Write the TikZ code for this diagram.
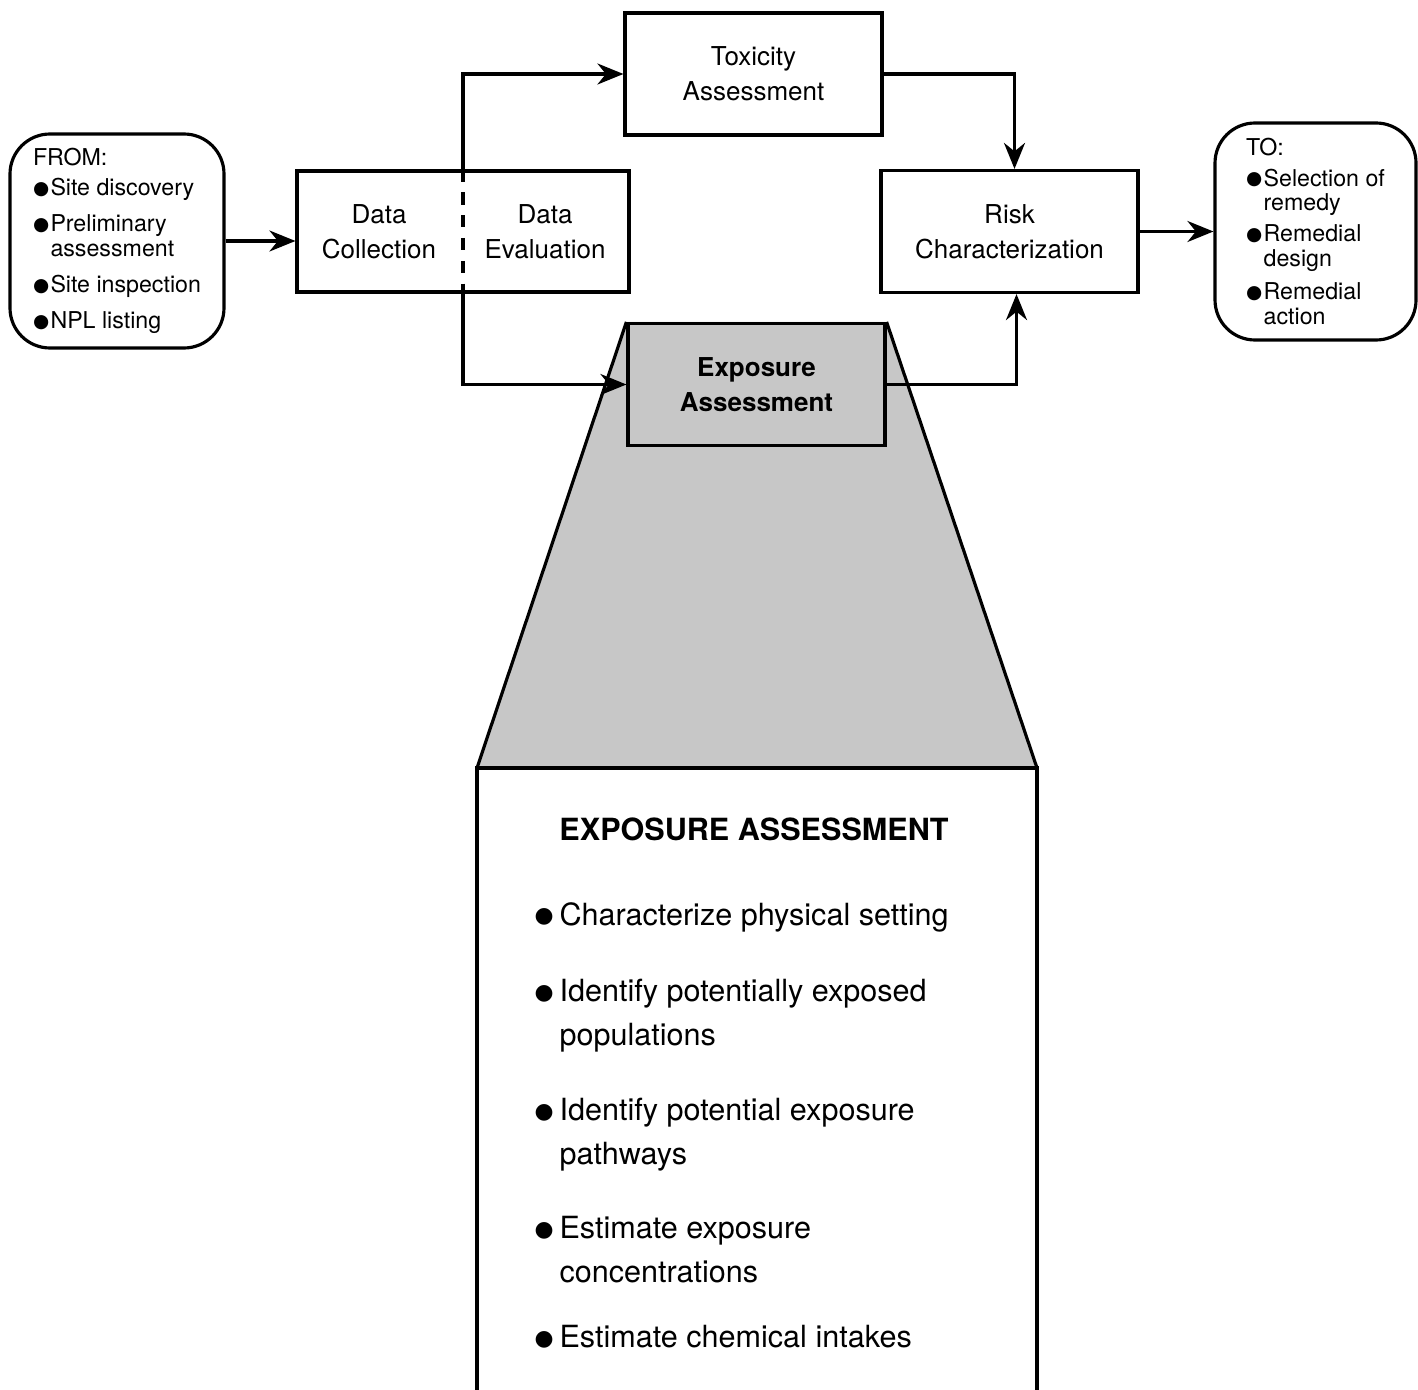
\documentclass[tikz,border=0pt]{standalone}
\usepackage{fontspec}
\setmainfont{TeX Gyre Heros}
\newfontfamily\symfont{DejaVu Sans}
\usetikzlibrary{positioning,arrows.meta,backgrounds}

\newcommand{\sbul}{\makebox[1.75mm][l]{\raisebox{0.35pt}{\symfont\fontsize{5.3}{5}\selectfont ●}}}
\newcommand{\snob}{\makebox[1.75mm]{}}
\newcommand{\bbul}{\makebox[2.5mm][l]{\raisebox{0.6pt}{\symfont\fontsize{6.2}{6}\selectfont ●}}}
\newcommand{\bnob}{\makebox[2.5mm]{}}

\begin{document}
\begin{tikzpicture}[node distance = 3cm and 3cm, on grid, line width=0.9pt,
	flow/.style={-{Stealth[length=2.6mm,width=2.1mm]}},
	stage/.style={rectangle, draw, minimum width=2.57cm, minimum height=1.22cm, align=center, font=\fontsize{7.4}{10}\selectfont},
	ends/.style={rectangle, draw, rounded corners=0.4cm, align=left, font=\fontsize{6.6}{7.1}\selectfont},
	steptext/.style={align=left, inner sep=0pt, font=\fontsize{8.7}{12.5}\selectfont}]
	\useasboundingbox (0,0) rectangle (14.18,-13.89);

	% main flow
	\node[stage, minimum width=3.32cm, minimum height=1.21cm] (data) at (4.63,-2.315) {};
	\node (collect) [left = 0.84 of data, align=center, font=\fontsize{7.4}{10}\selectfont] {Data\\Collection};
	\node (evaluate) [right = 0.82 of data, align=center, font=\fontsize{7.4}{10}\selectfont] {Data\\Evaluation};
	\node[stage] (tox) [above right = 1.575 and 2.905 of data] {Toxicity\\Assessment};
	\node[stage] (risk) [right = 5.465 of data] {Risk\\Characterization};
	\node[stage, fill=black!22, font=\fontsize{7.4}{10}\selectfont\bfseries] (expo) [below right = 1.53 and 2.935 of data] {Exposure\\Assessment};
	\node[ends, minimum width=2.14cm, minimum height=2.14cm] (from) [below left = 0.095 and 3.46 of data]
		{FROM:\\[1.4pt]
		\sbul Site discovery\\[3.1pt]
		\sbul Preliminary\\
		\snob assessment\\[3.1pt]
		\sbul Site inspection\\[3.1pt]
		\sbul NPL listing};
	\node[ends, minimum width=2.01cm, minimum height=2.17cm] (to) [right = 3.06 of risk]
		{TO:\\[1.7pt]
		\sbul Selection of\\
		\snob remedy\\[1.7pt]
		\sbul Remedial\\
		\snob design\\[2.3pt]
		\sbul Remedial\\
		\snob action};

	\draw[dash pattern=on 3.5pt off 3pt] (data.north) -- (data.south);

	\draw[flow] (from.east) -- (from.east -| data.west);
	\draw[flow] (data.north) |- (tox.west);
	\draw[flow] (data.south) |- (expo.west);
	\draw[flow] (tox.east) -| ([xshift=0.05cm]risk.north);
	\draw[flow] (expo.east) -| ([xshift=0.07cm]risk.south);
	\draw[flow] (risk.east) -- (risk.east -| to.west);

	% blow-up of the exposure step
	\coordinate (boxtl) at (4.77,-7.68);
	\coordinate (boxtr) at (10.37,-7.68);
	\coordinate (boxbl) at (4.77,-13.95);
	\coordinate (boxbr) at (10.37,-13.95);
	\begin{scope}[on background layer]
		\fill[black!22] (expo.north west) -- (expo.north east) -- (boxtr) -- (boxtl) -- cycle;
	\end{scope}
	\draw (expo.north west) -- (boxtl);
	\draw (expo.north east) -- (boxtr);
	\draw (boxbl) -- (boxtl) -- (boxtr) -- (boxbr);

	\node[font=\fontsize{8.7}{10}\selectfont\bfseries] (head) at (7.54,-8.29) {EXPOSURE ASSESSMENT};
	\node[steptext, anchor=west] (step1) at (5.33,-9.17) {\bbul Characterize physical setting};
	\node[steptext, anchor=west] (step2) at (5.33,-10.155) {\bbul Identify potentially exposed\\\bnob populations};
	\node[steptext, anchor=west] (step3) at (5.33,-11.345) {\bbul Identify potential exposure\\\bnob pathways};
	\node[steptext, anchor=west] (step4) at (5.33,-12.5) {\bbul Estimate exposure\\\bnob concentrations};
	\node[steptext, anchor=west] (step5) at (5.33,-13.37) {\bbul Estimate chemical intakes};
\end{tikzpicture}
\end{document}
